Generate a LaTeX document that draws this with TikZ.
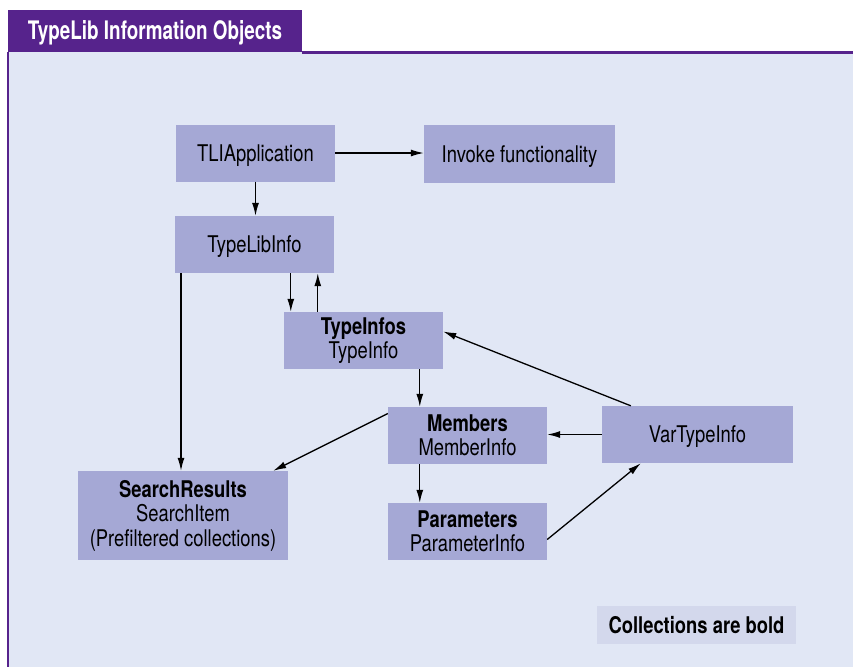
\documentclass[tikz,border=0pt]{standalone}
\usepackage{fontspec}
\setmainfont{TeX Gyre Heros}[FakeStretch=0.8]
\newfontfamily\tabfont{TeX Gyre Heros}[FakeStretch=0.74]
\usetikzlibrary{arrows.meta,positioning,calc}

\definecolor{tlipurple}{RGB}{86,35,140}
\definecolor{tlibg}{RGB}{225,231,245}
\definecolor{tlibox}{RGB}{165,168,213}
\definecolor{tlinote}{RGB}{211,216,236}

\tikzset{
  objbox/.style={fill=tlibox, inner sep=0pt, minimum width=159pt, minimum height=57pt,
                 align=center, font=\fontsize{23}{24.5}\selectfont},
  oneline/.style={text height=16pt, text depth=0pt},
  link/.style={-{Latex[length=13pt,width=7pt]}, line width=1.3pt},
}

\begin{document}
\begin{tikzpicture}[x=1pt,y=-1pt]
    % draw the background
    \useasboundingbox (0,0) rectangle (853,667);
    \fill[tlibg] (8,52) rectangle (853,667);
    \fill[tlipurple] (8,10) rectangle (302,52);
    \draw[tlipurple, line width=3pt] (302,52) -- (853,52);
    \draw[tlipurple, line width=2pt] (8,52) -- (8,667);
    \node[text=white, oneline, font=\tabfont\bfseries\fontsize{25.5}{26}\selectfont] (title) at (155,31) {TypeLib Information Objects};

    % the objects
    \node[objbox, oneline] (app) at (255.5,153) {TLIApplication};
    \node[objbox, oneline, minimum width=191pt, minimum height=58pt] (invoke) at (519.5,154) {Invoke functionality};
    \node[objbox, oneline] (tlib) at (254.5,244.5) {TypeLibInfo};
    \node[objbox] (tinfos) at (363.5,340.5) {\textbf{TypeInfos}\\TypeInfo};
    \node[objbox] (members) at (467.5,435.5) {\textbf{Members}\\MemberInfo};
    \node[objbox, oneline, minimum width=191pt] (vartype) at (697.5,434.5) {VarTypeInfo};
    \node[objbox, minimum width=210pt, minimum height=89pt] (search) at (183,515.5)
        {\textbf{SearchResults}\\SearchItem\\(Prefiltered collections)};
    \node[objbox] (params) at (467.5,531.5) {\textbf{Parameters}\\ParameterInfo};

    % legend
    \node[fill=tlinote, oneline, inner sep=0pt, minimum width=199pt, minimum height=38pt,
          font=\bfseries\fontsize{23}{24}\selectfont] (note) at (696.5,625) {Collections are bold};

    % arrow ends
    \coordinate (tdown) at ([xshift=7pt]tinfos.north west);
    \coordinate (tup) at ([xshift=34pt]tinfos.north west);
    \coordinate (mdown) at ([xshift=32pt]members.north west);
    \coordinate (pdown) at ([xshift=32pt]params.north west);

    % the links
    \draw[link] (app.east) -- (app.east -| invoke.west);
    \draw[link] (app.south) -- (app.south |- tlib.north);
    \draw[link] (tdown |- tlib.south) -- (tdown);
    \draw[link] (tup) -- (tup |- tlib.south);
    \draw[link] ([xshift=-2pt]search.north |- tlib.south) -- ([xshift=-2pt]search.north);
    \draw[link] (mdown |- tinfos.south) -- (mdown);
    \draw[link] (pdown |- members.south) -- (pdown);
    \draw[link] ([yshift=22pt]members.west) -- ([xshift=-15pt]search.north east);
    \draw[link] (vartype.west) -- (vartype.west -| members.east);
    \draw[link] ([xshift=29pt]vartype.north west) -- ([yshift=9pt]tinfos.east);
    \draw[link] ([yshift=-8pt]params.east) -- ([xshift=39pt]vartype.south west);
\end{tikzpicture}
\end{document}
